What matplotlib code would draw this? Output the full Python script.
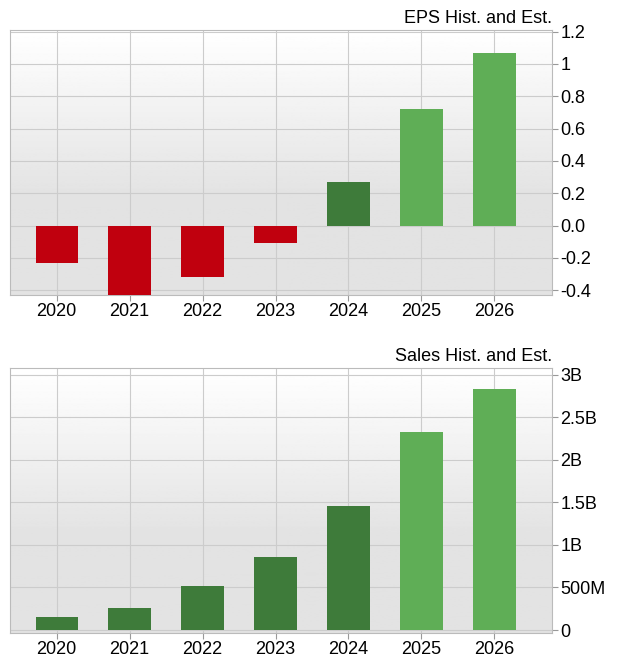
import matplotlib
matplotlib.use("Agg")
import matplotlib.pyplot as plt
import numpy as np

plt.rcParams["font.family"] = "Liberation Sans"

years = ["2020", "2021", "2022", "2023", "2024", "2025", "2026"]
eps = [-0.23, -0.43, -0.32, -0.11, 0.27, 0.72, 1.07]
sales = [0.153e9, 0.26e9, 0.52e9, 0.86e9, 1.46e9, 2.33e9, 2.835e9]
estimate = [False, False, False, False, False, True, True]
eps_ticks = [-0.4, -0.2, 0.0, 0.2, 0.4, 0.6, 0.8, 1.0, 1.2]
eps_labels = ["-0.4", "-0.2", "0.0", "0.2", "0.4", "0.6", "0.8", "1", "1.2"]
sales_ticks = [0, 0.5e9, 1e9, 1.5e9, 2e9, 2.5e9, 3e9]
sales_labels = ["0", "500M", "1B", "1.5B", "2B", "2.5B", "3B"]

RED = "#c0000e"; DARK = "#3e7b3a"; LIGHT = "#5fae56"
W, H = 620, 661
fig = plt.figure(figsize=(W/100, H/100), dpi=100)

def make(ax_rect, vals, ticks, labels, ylim, title, is_eps):
    ax = fig.add_axes(ax_rect)
    t = np.linspace(0, 1, 256)
    grad = (0.89 + 0.11 * np.clip(1 - t * 1.6, 0, 1)).reshape(-1, 1)[::-1]
    ax.imshow(grad, cmap="gray", vmin=0, vmax=1, aspect="auto",
              extent=[0, 1, 0, 1], transform=ax.transAxes, zorder=0, origin="lower")
    x = np.arange(len(years))
    cols = []
    for v, e in zip(vals, estimate):
        if is_eps and v < 0:
            cols.append(RED)
        else:
            cols.append(LIGHT if e else DARK)
    ax.bar(x, vals, width=0.58, color=cols, zorder=3)
    ax.set_xlim(-0.64, 6.79)
    ax.set_ylim(*ylim)
    ax.set_xticks(x)
    ax.set_xticklabels(years, fontsize=13)
    ax.set_yticks(ticks)
    ax.set_yticklabels(labels, fontsize=13)
    ax.yaxis.tick_right()
    ax.grid(True, color="#cccccc", lw=0.8, zorder=1)
    ax.tick_params(length=4, color="#999999", pad=2)
    for s in ax.spines.values():
        s.set_color("#bbbbbb")
    ax.text(1.0, 1.01, title, transform=ax.transAxes, ha="right", va="bottom", fontsize=13)
    return ax

make([10/W, 1-295/H, 542/W, 265/H], eps, eps_ticks, eps_labels, (-0.43, 1.21), "EPS Hist. and Est.", True)
make([10/W, 1-633/H, 542/W, 265/H], sales, sales_ticks, sales_labels, (-0.035e9, 3.08e9), "Sales Hist. and Est.", False)
fig.savefig("out.png", dpi=100)
